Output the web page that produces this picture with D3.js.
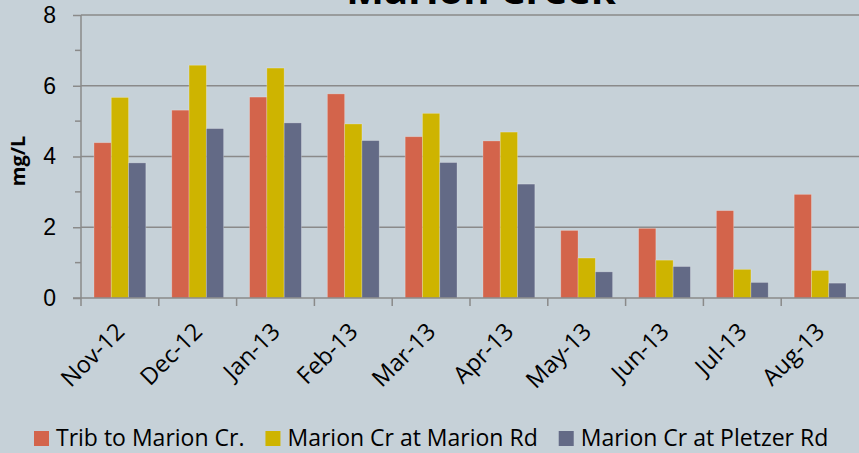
<!DOCTYPE html>
<html>
<head>
<meta charset="utf-8">
<script src="https://cdn.jsdelivr.net/npm/d3@7"></script>
<style>
  html, body { margin: 0; padding: 0; background: #c6d1d8; }
  svg { display: block; font-family: 'Open Sans', sans-serif; }
</style>
</head>
<body>
<svg id="chart" width="859" height="453"></svg>
<script>
// chart data
const months = ['Nov-12', 'Dec-12', 'Jan-13', 'Feb-13', 'Mar-13', 'Apr-13', 'May-13', 'Jun-13', 'Jul-13', 'Aug-13']
const seriesNames = ['Trib to Marion Cr.', 'Marion Cr at Marion Rd', 'Marion Cr at Pletzer Rd']
const tribValues = [4.39, 5.31, 5.68, 5.77, 4.56, 4.44, 1.91, 1.97, 2.47, 2.93]
const marionRdValues = [5.67, 6.58, 6.50, 4.92, 5.22, 4.69, 1.13, 1.07, 0.81, 0.78]
const pletzerRdValues = [3.82, 4.79, 4.95, 4.45, 3.83, 3.22, 0.74, 0.89, 0.44, 0.42]
const yTicks = [0, 2, 4, 6, 8]
const yMinorTicks = [1, 3, 5, 7]
const colors = ['#d3644b', '#ceb400', '#636a86']

const seriesValues = [tribValues, marionRdValues, pletzerRdValues]

const svg = d3.select('#chart')
const margin = { top: 15, right: 0, bottom: 155, left: 81 }
const width = +svg.attr('width') - margin.left - margin.right
const height = +svg.attr('height') - margin.top - margin.bottom
const axisColor = '#8a8a8a'

const g = svg.append('g').attr('transform', 'translate(' + margin.left + ',' + margin.top + ')')

const x = d3.scaleBand().domain(months).range([0, width])
const bw = x.bandwidth()
// excel style gap: 150% of a bar width, split on both sides
const xs = d3.scaleBand().domain(d3.range(seriesNames.length))
  .range([bw * 0.75 / 4.5, bw - bw * 0.75 / 4.5])
const y = d3.scaleLinear().domain([0, 8]).range([height, 0])

// gridlines
g.append('g')
  .selectAll('line')
  .data(yTicks.filter(d => d > 0))
  .enter().append('line')
  .attr('x1', 0)
  .attr('x2', width)
  .attr('y1', d => y(d))
  .attr('y2', d => y(d))
  .attr('stroke', axisColor)
  .attr('stroke-width', 1.5)

// bars
g.append('g')
  .selectAll('g')
  .data(seriesValues)
  .enter().append('g')
  .attr('fill', (d, i) => colors[i])
  .attr('transform', (d, i) => 'translate(' + xs(i) + ',0)')
  .selectAll('rect')
  .data(d => d)
  .enter().append('rect')
  .attr('x', (d, i) => x(months[i]))
  .attr('y', d => y(d))
  .attr('width', xs.bandwidth())
  .attr('height', d => y(0) - y(d))
  .attr('stroke', 'rgba(255,255,255,0.3)')
  .attr('stroke-width', 0.8)

// Y-axis with minor ticks
const yAxis = g.append('g')
  .call(d3.axisLeft(y).tickValues(yTicks).tickSize(8).tickPadding(17).tickFormat(d3.format('d')))
yAxis.select('.domain').remove()
yAxis.selectAll('line').attr('stroke', axisColor).attr('stroke-width', 1.5)
yAxis.selectAll('text').attr('font-size', 23).attr('fill', '#000')
g.append('g')
  .selectAll('line')
  .data(yMinorTicks)
  .enter().append('line')
  .attr('x1', -6)
  .attr('x2', 0)
  .attr('y1', d => y(d))
  .attr('y2', d => y(d))
  .attr('stroke', axisColor)
  .attr('stroke-width', 1.5)
g.append('line')
  .attr('x1', 0).attr('x2', 0)
  .attr('y1', 0).attr('y2', height + 8)
  .attr('stroke', axisColor)
  .attr('stroke-width', 1.5)

// X-axis: ticks between categories
const xAxis = g.append('g').attr('transform', 'translate(0,' + height + ')')
xAxis.append('line')
  .attr('x1', -8).attr('x2', width)
  .attr('stroke', axisColor)
  .attr('stroke-width', 1.5)
xAxis.selectAll('.sep')
  .data(months.slice(1))
  .enter().append('line')
  .attr('class', 'sep')
  .attr('x1', d => x(d)).attr('x2', d => x(d))
  .attr('y1', 0).attr('y2', 8)
  .attr('stroke', axisColor)
  .attr('stroke-width', 1.5)
xAxis.selectAll('text')
  .data(months)
  .enter().append('text')
  .attr('transform', d => 'translate(' + (x(d) + bw / 2 + 6) + ',35) rotate(-45)')
  .attr('text-anchor', 'end')
  .attr('font-size', 23.5)
  .attr('fill', '#000')
  .text(d => d)

// Y label
svg.append('text')
  .attr('transform', 'translate(25,161) rotate(-90)')
  .attr('text-anchor', 'middle')
  .attr('font-size', 20)
  .attr('font-weight', 'bold')
  .attr('fill', '#000')
  .text('mg/L')

// title (mostly cut off at the top)
svg.append('text')
  .attr('x', 481)
  .attr('y', 4)
  .attr('text-anchor', 'middle')
  .attr('font-size', 40)
  .attr('font-weight', 'bold')
  .attr('fill', '#000')
  .text('Marion Creek')

// legend
const legend = svg.append('g').attr('transform', 'translate(34,431)')
let lx = 0
seriesNames.forEach((name, i) => {
  const item = legend.append('g').attr('transform', 'translate(' + lx + ',0)')
  item.append('rect')
    .attr('width', 15)
    .attr('height', 15)
    .attr('fill', colors[i])
  const t = item.append('text')
    .attr('x', 22)
    .attr('y', 15)
    .attr('font-size', 23)
    .attr('fill', '#000')
    .text(name)
  lx += 22 + t.node().getComputedTextLength() + 21
})
</script>
</body>
</html>
